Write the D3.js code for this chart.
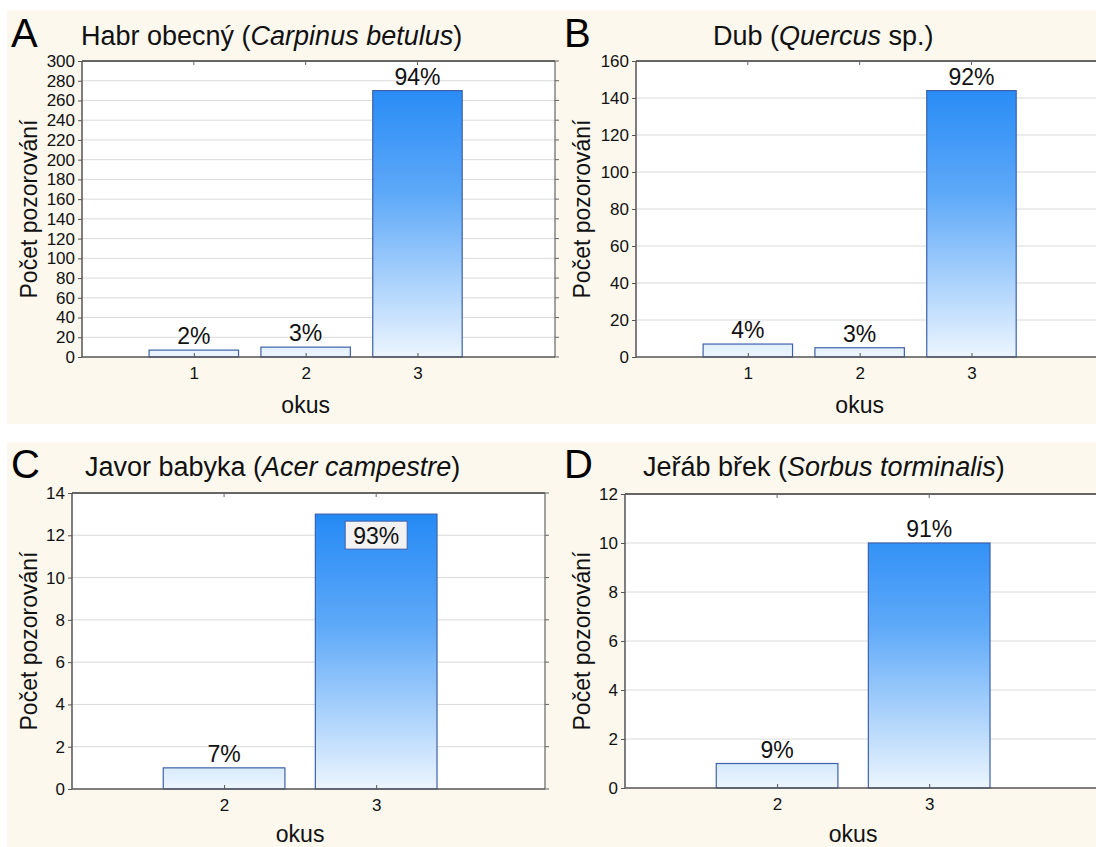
<!DOCTYPE html>
<html><head><meta charset="utf-8">
<script src="https://cdn.jsdelivr.net/npm/d3@7"></script>
<style>body{margin:0;background:#fff}svg{display:block;font-family:"Liberation Sans",Arial,sans-serif}</style>
</head><body>
<svg id="c" width="1096" height="847"></svg>
<script>
// ---- data ----
const categoriesA = ["1", "2", "3"];
const valuesA = [7, 10, 270];
const percentA = ["2%", "3%", "94%"];
const yTicksA = [0,20,40,60,80,100,120,140,160,180,200,220,240,260,280,300];

const categoriesB = ["1", "2", "3"];
const valuesB = [7, 5, 144];
const percentB = ["4%", "3%", "92%"];
const yTicksB = [0,20,40,60,80,100,120,140,160];

const categoriesC = ["2", "3"];
const valuesC = [1, 13];
const percentC = ["7%", "93%"];
const yTicksC = [0,2,4,6,8,10,12,14];

const categoriesD = ["2", "3"];
const valuesD = [1, 10];
const percentD = ["9%", "91%"];
const yTicksD = [0,2,4,6,8,10,12];

const letters = ["A", "B", "C", "D"];
const titlesPlain = [["Habr obecný (", "Carpinus betulus", ")"], ["Dub (", "Quercus", " sp.)"],
                     ["Javor babyka (", "Acer campestre", ")"], ["Jeřáb břek (", "Sorbus torminalis", ")"]];
const yLabel = "Počet pozorování";
const xLabel = "okus";

// ---- layout ----
const svg = d3.select("#c");
svg.append("rect").attr("x",7).attr("y",10).attr("width",1089).attr("height",414).attr("fill","#fcf8ee");
svg.append("rect").attr("x",7).attr("y",442).attr("width",1089).attr("height",405).attr("fill","#fcf8ee");

const panels = [
  {cats:categoriesA, vals:valuesA, pct:percentA, ticks:yTicksA, left:82, top:61, bottom:357, xMax:4.23,
   letterX:11, titleX:81, titleY:45, ylabX:29, xlabY:413, tickFs:17, boxed:-1},
  {cats:categoriesB, vals:valuesB, pct:percentB, ticks:yTicksB, left:636, top:61, bottom:357, xMax:4.23,
   letterX:564, titleX:713, titleY:45, ylabX:582, xlabY:413, tickFs:17, boxed:-1},
  {cats:categoriesC, vals:valuesC, pct:percentC, ticks:yTicksC, left:72, top:493, bottom:789, xMax:3.11,
   letterX:11, titleX:85, titleY:476, ylabX:29, xlabY:842, tickFs:17, boxed:1},
  {cats:categoriesD, vals:valuesD, pct:percentD, ticks:yTicksD, left:625, top:494, bottom:788, xMax:3.11,
   letterX:564, titleX:643, titleY:476, ylabX:582, xlabY:842, tickFs:17, boxed:-1}
];

panels.forEach((p, pi) => {
  const width = 473;
  const right = p.left + width;
  const x = d3.scaleLinear().domain([0, p.xMax]).range([p.left, right]);
  const yMax = d3.max(p.ticks);
  const y = d3.scaleLinear().domain([0, yMax]).range([p.bottom, p.top]);
  const g = svg.append("g");

  // gradient
  const gid = "grad" + pi;
  const grad = svg.append("defs").append("linearGradient").attr("id", gid)
    .attr("gradientUnits","userSpaceOnUse").attr("x1",0).attr("x2",0).attr("y1",p.top).attr("y2",p.bottom);
  grad.append("stop").attr("offset",0).attr("stop-color","#1a84f5");
  grad.append("stop").attr("offset",0.45).attr("stop-color","#5ea9f8");
  grad.append("stop").attr("offset",1).attr("stop-color","#ecf5fe");

  // plot area
  g.append("rect").attr("x",p.left).attr("y",p.top).attr("width",width).attr("height",p.bottom-p.top).attr("fill","#fff");
  // gridlines
  g.selectAll("line.grid").data(p.ticks.filter(t => t > 0 && t < yMax)).join("line")
    .attr("x1",p.left).attr("x2",right).attr("y1",d=>y(d)).attr("y2",d=>y(d))
    .attr("stroke","#dadada").attr("stroke-width",1);

  // bars
  const bw = x(0.8) - x(0);
  g.selectAll("rect.bar").data(p.vals).join("rect")
    .attr("x",(d,i)=>x(i+1)-bw/2).attr("y",d=>y(d)).attr("width",bw).attr("height",d=>y(0)-y(d))
    .attr("fill","url(#"+gid+")").attr("stroke","#3d62ad").attr("stroke-width",1.2);

  // frame
  g.append("line").attr("x1",right).attr("x2",right).attr("y1",p.top).attr("y2",p.bottom).attr("stroke","#666").attr("stroke-width",1.2);
  g.append("line").attr("x1",p.left).attr("x2",right).attr("y1",p.top).attr("y2",p.top).attr("stroke","#666").attr("stroke-width",2);
  g.append("line").attr("x1",p.left).attr("x2",right).attr("y1",p.bottom).attr("y2",p.bottom).attr("stroke","#555").attr("stroke-width",1.5);
  g.append("line").attr("x1",p.left).attr("x2",p.left).attr("y1",p.top).attr("y2",p.bottom).attr("stroke","#555").attr("stroke-width",1.5);

  // y axis
  const yAxis = d3.axisLeft(y).tickValues(p.ticks).tickSize(4).tickPadding(3).tickFormat(d3.format("d"));
  const ya = g.append("g").attr("transform",`translate(${p.left},0)`).call(yAxis);
  ya.select(".domain").remove();
  ya.selectAll("line").attr("stroke","#555");
  ya.selectAll("text").attr("font-size",p.tickFs).attr("fill","#111").attr("font-family","Liberation Sans, Arial");
  // right ticks
  g.selectAll("line.rt").data(p.ticks).join("line")
    .attr("x1",right).attr("x2",right+4).attr("y1",d=>y(d)).attr("y2",d=>y(d)).attr("stroke","#666");

  // x axis
  const xAxis = d3.axisBottom(x).tickValues(p.cats.map((c,i)=>i+1)).tickFormat((d,i)=>p.cats[i]).tickSize(-4).tickPadding(10);
  const xa = g.append("g").attr("transform",`translate(0,${p.bottom})`).call(xAxis);
  xa.select(".domain").remove();
  xa.selectAll("line").attr("stroke","#555");
  xa.selectAll("text").attr("font-size",17).attr("fill","#111").attr("font-family","Liberation Sans, Arial");
  // top ticks
  g.selectAll("line.tt").data(p.cats.map((c,i)=>i+1)).join("line")
    .attr("x1",d=>x(d)).attr("x2",d=>x(d)).attr("y1",p.top).attr("y2",p.top+4).attr("stroke","#666");

  // percent labels
  p.vals.forEach((v, i) => {
    if (i === p.boxed) {
      const cx = x(i+1), cy = y(v) + 22;
      g.append("rect").attr("x",cx-31).attr("y",cy-15).attr("width",62).attr("height",28)
        .attr("fill","#f2f2f2").attr("stroke","#3d62ad").attr("stroke-width",1);
      g.append("text").attr("x",cx).attr("y",cy+8).attr("text-anchor","middle").attr("font-size",23).attr("fill","#111").text(p.pct[i]);
    } else {
      g.append("text").attr("x",x(i+1)).attr("y",y(v)-6).attr("text-anchor","middle").attr("font-size",23).attr("fill","#111").text(p.pct[i]);
    }
  });

  // panel letter & title
  g.append("text").attr("x",p.letterX).attr("y",p.titleY+2).attr("font-size",40).attr("fill","#000").text(letters[pi]);
  const t = g.append("text").attr("x",p.titleX).attr("y",p.titleY).attr("font-size",27).attr("fill","#111");
  t.append("tspan").text(titlesPlain[pi][0]);
  t.append("tspan").attr("font-style","italic").text(titlesPlain[pi][1]);
  t.append("tspan").text(titlesPlain[pi][2]);

  // axis labels
  g.append("text").attr("transform",`translate(${p.ylabX},${(p.top+p.bottom)/2}) rotate(-90)`)
    .attr("text-anchor","middle").attr("dy","0.35em").attr("font-size",23).attr("fill","#111").text(yLabel);
  g.append("text").attr("x", (x(1)+x(p.cats.length))/2).attr("y",p.xlabY)
    .attr("text-anchor","middle").attr("font-size",23).attr("fill","#111").text(xLabel);
});
</script>
</body></html>
